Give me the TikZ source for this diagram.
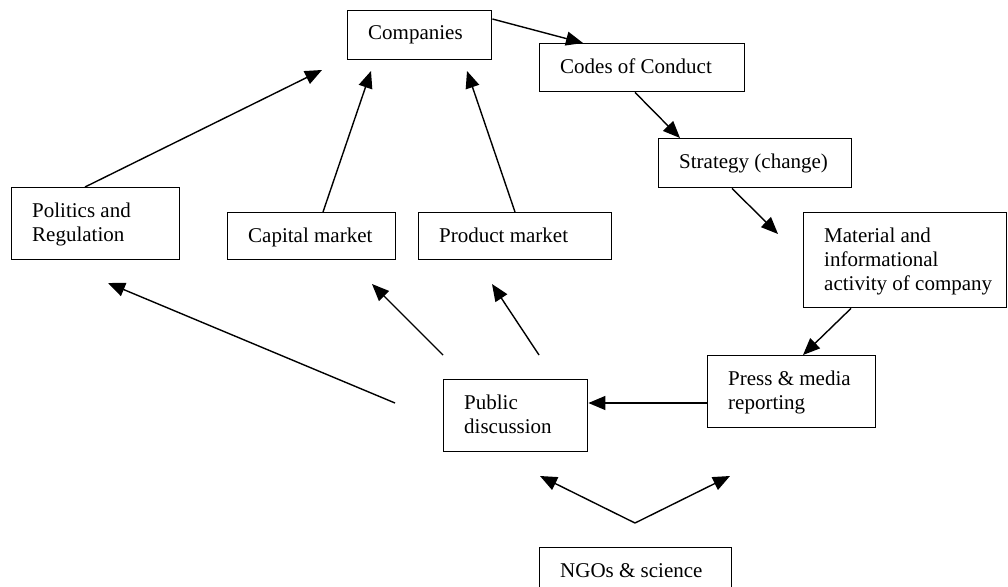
\documentclass[tikz,border=0pt]{standalone}
\usepackage{fontspec}
\setmainfont{Liberation Serif}
\usetikzlibrary{arrows.meta,calc}
\newcommand\mkbox[6]{%
  \node[box, minimum width={#4-#2}, minimum height={#5-#3}] (#1) at (#2,#3) {};
  \node[lbl] (#1-t) at ($(#1.north west)+(21,30)$) {#6};
}
\begin{document}
\begin{tikzpicture}[x=1pt,y=-1pt,
  box/.style={draw, line width=1.4pt, inner sep=0pt, anchor=north west},
  lbl/.style={anchor=base west, inner sep=0pt, font=\fontsize{21}{24}\selectfont},
  arr/.style={line width=1.4pt, -{Triangle[length=17pt,width=14pt]}}]
\clip (0,0) rectangle (1008,586);
\fill[white] (0,0) rectangle (1008,586);

\mkbox{comp}{347}{10}{491}{59}{Companies}
\mkbox{codes}{539}{43}{744}{91}{Codes of Conduct}
\mkbox{strat}{658}{138}{851}{187}{Strategy (change)}
\mkbox{pol}{11}{187}{179}{259}{\vtop{\hbox{Politics and}\hbox{Regulation}}}
\mkbox{cap}{227}{212}{395}{259}{Capital market}
\mkbox{prod}{418}{212}{611}{259}{Product market}
\mkbox{mat}{803}{212}{1006}{307}{\vtop{\hbox{Material and}\hbox{informational}\hbox{activity of company}}}
\mkbox{press}{707}{355}{875}{427}{\vtop{\hbox{Press \& media}\hbox{reporting}}}
\mkbox{pub}{443}{379}{587}{451}{\vtop{\hbox{Public}\hbox{discussion}}}
\mkbox{ngo}{539}{547}{731}{600}{NGOs \& science}

% free ends
\coordinate (matin) at (778,234);
\coordinate (polin) at (322,70);
\coordinate (capin) at (371,71);
\coordinate (prodin) at (467,71);
\coordinate (pubA) at (395,403);
\coordinate (polB) at (108,283);
\coordinate (pubC) at (443,355);
\coordinate (capB) at (372,284);
\coordinate (pubD) at (539,355);
\coordinate (prodB) at (492,284);
\coordinate (ngoV) at (635,523);
\coordinate (ngoL) at (540,476);
\coordinate (ngoR) at (730,476);

\draw[arr] ($(comp.north east)+(0,9)$) -- ($(codes.north west)+(44,0)$);
\draw[arr] ($(codes.south west)+(96,0)$) -- ($(strat.north west)+(22,0)$);
\draw[arr] ($(strat.south west)+(74,0)$) -- (matin);
\draw[arr] ($(mat.south west)+(48,0)$) -- ($(press.north west)+(96,0)$);
\draw[arr] ($(press.north west)+(0,48)$) -- ($(pub.north east)+(0,24)$);
\draw[arr] (pubA) -- (polB);
\draw[arr] (pubC) -- (capB);
\draw[arr] (pubD) -- (prodB);
\draw[arr] ($(pol.north west)+(74,0)$) -- (polin);
\draw[arr] ($(cap.north west)+(96,0)$) -- (capin);
\draw[arr] ($(prod.north west)+(97,0)$) -- (prodin);
\draw[arr] (ngoV) -- (ngoL);
\draw[arr] (ngoV) -- (ngoR);
\end{tikzpicture}
\end{document}
